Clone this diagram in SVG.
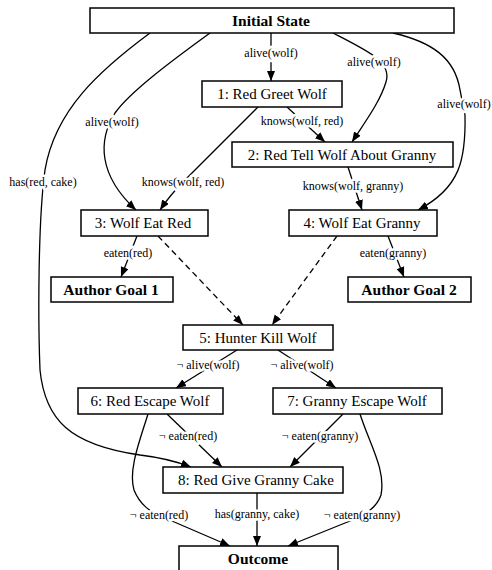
<svg xmlns="http://www.w3.org/2000/svg" width="492" height="570" viewBox="0 0 492 570">
<defs>
<marker id="ah" markerUnits="userSpaceOnUse" markerWidth="12" markerHeight="10" refX="10" refY="4" orient="auto">
<path d="M0,0 L10,4 L0,8 Z" fill="#000"/>
</marker>
<style>
.box{fill:#fff;stroke:#000;stroke-width:1.5}
.nt{font-family:"Liberation Serif",serif;font-size:15px;text-anchor:middle;fill:#000}
.bt{font-family:"Liberation Serif",serif;font-size:15.5px;font-weight:bold;text-anchor:middle;fill:#000}
.e{fill:none;stroke:#000;stroke-width:1.3;marker-end:url(#ah)}
.d{stroke-dasharray:6,4}
.el{font-family:"Liberation Serif",serif;font-size:12px;text-anchor:middle;fill:#000;stroke:#fff;stroke-width:5;paint-order:stroke;stroke-linejoin:round}
</style>
</defs>
<rect width="492" height="570" fill="#fff"/>
<g id="connectors">
<path class="e" d="M271,33 L271,81"/>
<path class="e" d="M333,33 C370,52 392,62 386,82 C380,102 365,122 352,142"/>
<path class="e" d="M393,33 C432,42 455,58 460,90 L465,115 C466,160 460,188 418,210"/>
<path class="e" d="M210,33 C170,62 130,92 115,113 C98,140 98,175 136,210"/>
<path class="e" d="M150,33 C100,70 55,110 45,170 C38,220 38,320 40,370 C45,420 70,445 140,455 C165,458 178,462 191,467"/>
<path class="e" d="M287,107 L325,142"/>
<path class="e" d="M258,107 C230,135 205,160 185,180 C175,190 168,198 160,210"/>
<path class="e" d="M348,167 L362,210"/>
<path class="e" d="M137,236 L121,277"/>
<path class="e d" d="M158,236 L243,325"/>
<path class="e d" d="M337,236 L272,325"/>
<path class="e" d="M388,236 L404,277"/>
<path class="e" d="M237,350 L176,388"/>
<path class="e" d="M278,350 L336,388"/>
<path class="e" d="M167,414 L222,467"/>
<path class="e" d="M343,414 L290,467"/>
<path class="e" d="M148,414 C140,440 128,470 134,490 C140,505 150,512 165,518 L230,546"/>
<path class="e" d="M360,414 C370,445 386,470 381,495 C376,510 360,518 345,523 L288,546"/>
<path class="e" d="M257,493 L257,546"/>
<text class="el" x="271" y="57">alive(wolf)</text>
<text class="el" x="374" y="66">alive(wolf)</text>
<text class="el" x="464" y="108">alive(wolf)</text>
<text class="el" x="112" y="126">alive(wolf)</text>
<text class="el" x="302" y="125">knows(wolf, red)</text>
<text class="el" x="43" y="186">has(red, cake)</text>
<text class="el" x="183" y="186">knows(wolf, red)</text>
<text class="el" x="353" y="190">knows(wolf, granny)</text>
<text class="el" x="128" y="257">eaten(red)</text>
<text class="el" x="393" y="257">eaten(granny)</text>
<text class="el" x="208" y="369">¬ alive(wolf)</text>
<text class="el" x="302" y="369">¬ alive(wolf)</text>
<text class="el" x="188" y="440">¬ eaten(red)</text>
<text class="el" x="320" y="440">¬ eaten(granny)</text>
<text class="el" x="159" y="519">¬ eaten(red)</text>
<text class="el" x="257" y="518">has(granny, cake)</text>
<text class="el" x="362" y="519">¬ eaten(granny)</text>
</g>
<g id="initial"><rect class="box" x="90" y="8" width="364" height="25"/><text class="bt" x="271" y="26">Initial State</text></g>
<g id="n1"><rect class="box" x="202" y="81" width="140" height="26"/><text class="nt" x="272" y="99">1: Red Greet Wolf</text></g>
<g id="n2"><rect class="box" x="232" y="142" width="221" height="25"/><text class="nt" x="342" y="160">2: Red Tell Wolf About Granny</text></g>
<g id="n3"><rect class="box" x="81" y="210" width="127" height="26"/><text class="nt" x="143" y="228">3: Wolf Eat Red</text></g>
<g id="n4"><rect class="box" x="289" y="210" width="148" height="26"/><text class="nt" x="362" y="228">4: Wolf Eat Granny</text></g>
<g id="goal1"><rect class="box" x="51" y="277" width="122" height="25"/><text class="bt" x="111" y="295">Author Goal 1</text></g>
<g id="goal2"><rect class="box" x="348" y="277" width="123" height="25"/><text class="bt" x="409" y="295">Author Goal 2</text></g>
<g id="n5"><rect class="box" x="183" y="325" width="150" height="25"/><text class="nt" x="258" y="343">5: Hunter Kill Wolf</text></g>
<g id="n6"><rect class="box" x="78" y="388" width="145" height="26"/><text class="nt" x="150" y="406">6: Red Escape Wolf</text></g>
<g id="n7"><rect class="box" x="273" y="388" width="169" height="26"/><text class="nt" x="357" y="406">7: Granny Escape Wolf</text></g>
<g id="n8"><rect class="box" x="163" y="467" width="180" height="26"/><text class="nt" x="256" y="485">8: Red Give Granny Cake</text></g>
<g id="outcome"><rect class="box" x="179" y="546" width="159" height="26"/><text class="bt" x="258" y="564">Outcome</text></g>
</svg>
